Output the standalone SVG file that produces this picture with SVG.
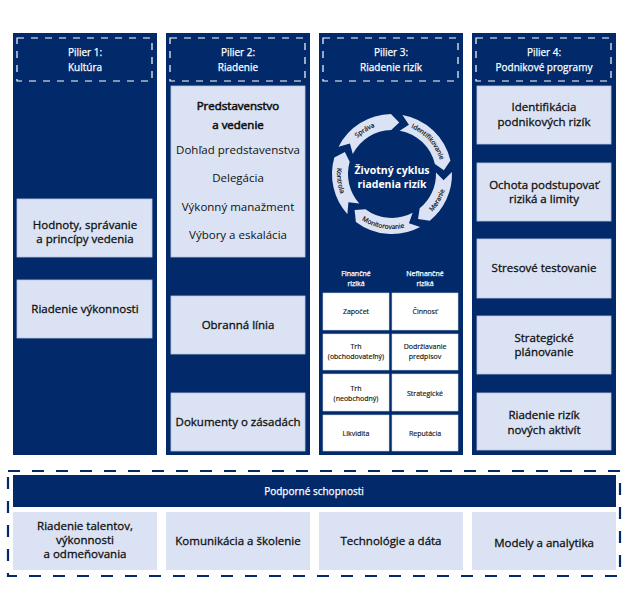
<svg xmlns="http://www.w3.org/2000/svg" width="626" height="608" viewBox="0 0 626 608">
<defs>
<style>
text{font-family:"Open Sans","Liberation Sans",Arial,sans-serif;text-anchor:middle}
.pillar{fill:#022a6b}
.hdr{fill:none;stroke:#ffffff;stroke-width:1.2;stroke-dasharray:7 7}
.lb{fill:#dae2f3;stroke:#b9c6e0;stroke-width:0.8}
.wb{fill:#ffffff;stroke:#c9d3e8;stroke-width:0.6}
.ht{fill:#ffffff;font-size:10px;stroke:#ffffff;stroke-width:0.25}
.bt{fill:#111111;font-size:11.5px;stroke:#111111;stroke-width:0.3}
.bt2{fill:#111111;font-size:11.5px}
.bb{fill:#111111;font-size:11.5px;stroke:#111111;stroke-width:0.55}
.tt{fill:#111111;font-size:7px;stroke:#111111;stroke-width:0.15}
.th{fill:#ffffff;font-size:7px;stroke:#ffffff;stroke-width:0.25}
.arc{fill:#dae2f3}
.ct{fill:#ffffff;font-size:10.5px;font-weight:700}
.cl{fill:#111111;font-size:6.5px;stroke:#111111;stroke-width:0.2}
</style>
<path id="pSprava" d="M348.70,149 A50,50 0 0 1 388.51,124.12"/>
<path id="pIdent" d="M400.68,124.76 A50,50 0 0 1 441.88,170.51"/>
<path id="pMer" d="M423.55,219.05 A55,55 0 0 0 446.79,178.79"/>
<path id="pMon" d="M353.11,212.89 A55,55 0 0 0 415.24,223.85"/>
<path id="pKon" d="M342.15,150.76 A55,55 0 0 0 349.87,209.35"/>
</defs>
<rect width="626" height="608" fill="#ffffff"/>

<g id="pillar1">
<rect class="pillar" x="13" y="33" width="144" height="422"/>
<rect class="hdr" x="17" y="38" width="135" height="43"/>
<text class="ht" x="85" y="56">Pilier 1:</text>
<text class="ht" x="85" y="71">Kultúra</text>
<rect class="lb" x="17" y="199" width="135" height="58"/>
<text class="bt" x="85" y="229">Hodnoty, správanie</text>
<text class="bt" x="85" y="243">a princípy vedenia</text>
<rect class="lb" x="17" y="280" width="135" height="58"/>
<text class="bt" x="85" y="313">Riadenie výkonnosti</text>
</g>

<g id="pillar2">
<rect class="pillar" x="166" y="33" width="144" height="422"/>
<rect class="hdr" x="170" y="38" width="135" height="43"/>
<text class="ht" x="238" y="56">Pilier 2:</text>
<text class="ht" x="238" y="71">Riadenie</text>
<rect class="lb" x="171" y="86" width="134" height="171"/>
<text class="bb" x="238" y="110">Predstavenstvo</text>
<text class="bb" x="238" y="129">a vedenie</text>
<text class="bt2" x="238" y="154">Dohľad predstavenstva</text>
<text class="bt2" x="238" y="182">Delegácia</text>
<text class="bt2" x="238" y="211">Výkonný manažment</text>
<text class="bt2" x="238" y="239">Výbory a eskalácia</text>
<rect class="lb" x="171" y="296" width="134" height="58"/>
<text class="bt" x="238" y="329">Obranná línia</text>
<rect class="lb" x="171" y="393" width="134" height="58"/>
<text class="bt" x="238" y="426">Dokumenty o zásadách</text>
</g>

<g id="pillar3">
<rect class="pillar" x="319" y="33" width="144" height="422"/>
<rect class="hdr" x="323" y="38" width="135" height="43"/>
<text class="ht" x="391" y="56">Pilier 3:</text>
<text class="ht" x="391" y="71">Riadenie rizík</text>
<g id="cycle">
<path class="arc" d="M338.54,146.76 A60,60 0 0 1 390.95,114.01 L399.24,122.51 L391.23,130.01 A44,44 0 0 0 352.80,154.02 L349.93,143.43 Z"/>
<path class="arc" d="M402.42,114.91 A60,60 0 0 1 450.46,160.50 L443.87,170.37 L434.87,164.10 A44,44 0 0 0 399.64,130.67 L408.93,124.83 Z"/>
<path class="arc" d="M451.96,171.91 A60,60 0 0 1 429.76,220.63 L418,219.03 L419.69,208.19 A44,44 0 0 0 435.97,172.46 L443.61,180.34 Z"/>
<path class="arc" d="M420.17,226.98 A60,60 0 0 1 355.89,221.92 L354.59,210.12 L365.52,209.14 A44,44 0 0 0 412.66,212.85 L408.93,223.17 Z"/>
<path class="arc" d="M347.41,214.15 A60,60 0 0 1 334.32,157.46 L344.87,152.02 L349.70,161.87 A44,44 0 0 0 359.30,203.44 L348.39,202.32 Z"/>
<text class="cl"><textPath href="#pSprava" startOffset="50%">Správa</textPath></text>
<text class="cl"><textPath href="#pIdent" startOffset="50%">Identifikovanie</textPath></text>
<text class="cl"><textPath href="#pMer" startOffset="50%">Meranie</textPath></text>
<text class="cl"><textPath href="#pMon" startOffset="50%">Monitorovanie</textPath></text>
<text class="cl"><textPath href="#pKon" startOffset="50%">Kontrola</textPath></text>
<text class="ct" x="392" y="174">Životný cyklus</text>
<text class="ct" x="392" y="188">riadenia rizík</text>
</g>
<text class="th" x="356" y="276">Finančné</text>
<text class="th" x="356" y="286">riziká</text>
<text class="th" x="425" y="276">Nefinančné</text>
<text class="th" x="425" y="286">riziká</text>
<rect class="wb" x="323" y="293" width="66" height="37"/>
<rect class="wb" x="392" y="293" width="66" height="37"/>
<rect class="wb" x="323" y="334" width="66" height="36"/>
<rect class="wb" x="392" y="334" width="66" height="36"/>
<rect class="wb" x="323" y="374" width="66" height="37"/>
<rect class="wb" x="392" y="374" width="66" height="37"/>
<rect class="wb" x="323" y="415" width="66" height="36"/>
<rect class="wb" x="392" y="415" width="66" height="36"/>
<text class="tt" x="356" y="314">Započet</text>
<text class="tt" x="425" y="314">Činnosť</text>
<text class="tt" x="356" y="349">Trh</text>
<text class="tt" x="356" y="359">(obchodovateľný)</text>
<text class="tt" x="425" y="349">Dodržiavanie</text>
<text class="tt" x="425" y="359">predpisov</text>
<text class="tt" x="356" y="391">Trh</text>
<text class="tt" x="356" y="401">(neobchodný)</text>
<text class="tt" x="425" y="396">Strategické</text>
<text class="tt" x="356" y="436">Likvidita</text>
<text class="tt" x="425" y="436">Reputácia</text>
</g>

<g id="pillar4">
<rect class="pillar" x="472" y="33" width="144" height="422"/>
<rect class="hdr" x="476" y="38" width="135" height="43"/>
<text class="ht" x="544" y="56">Pilier 4:</text>
<text class="ht" x="544" y="71">Podnikové programy</text>
<rect class="lb" x="477" y="86" width="134" height="58"/>
<text class="bt" x="544" y="111">Identifikácia</text>
<text class="bt" x="544" y="126">podnikových rizík</text>
<rect class="lb" x="477" y="163" width="134" height="58"/>
<text class="bt" x="544" y="189">Ochota podstupovať</text>
<text class="bt" x="544" y="203">riziká a limity</text>
<rect class="lb" x="477" y="239" width="134" height="59"/>
<text class="bt" x="544" y="272">Stresové testovanie</text>
<rect class="lb" x="477" y="316" width="134" height="58"/>
<text class="bt" x="544" y="342">Strategické</text>
<text class="bt" x="544" y="356">plánovanie</text>
<rect class="lb" x="477" y="393" width="134" height="57"/>
<text class="bt" x="544" y="419">Riadenie rizík</text>
<text class="bt" x="544" y="434">nových aktivít</text>
</g>

<g id="support">
<rect x="8" y="471" width="612" height="105" fill="none" stroke="#022a6b" stroke-width="2.2" stroke-dasharray="12 12"/>
<rect class="pillar" x="13" y="475" width="603" height="32"/>
<text class="ht" x="314" y="495" font-size="10.5">Podporné schopnosti</text>
<g id="sup1">
<rect fill="#dae2f3" x="13" y="512" width="144" height="58"/>
<text class="bt" x="85" y="530">Riadenie talentov,</text>
<text class="bt" x="85" y="544">výkonnosti</text>
<text class="bt" x="85" y="558">a odmeňovania</text>
</g>
<g id="sup2">
<rect fill="#dae2f3" x="166" y="512" width="144" height="58"/>
<text class="bt" x="238" y="545">Komunikácia a školenie</text>
</g>
<g id="sup3">
<rect fill="#dae2f3" x="319" y="512" width="144" height="58"/>
<text class="bt" x="391" y="545">Technológie a dáta</text>
</g>
<g id="sup4">
<rect fill="#dae2f3" x="472" y="512" width="144" height="58"/>
<text class="bt" x="544" y="547">Modely a analytika</text>
</g>
</g>
<g id="connectors"/>
</svg>
